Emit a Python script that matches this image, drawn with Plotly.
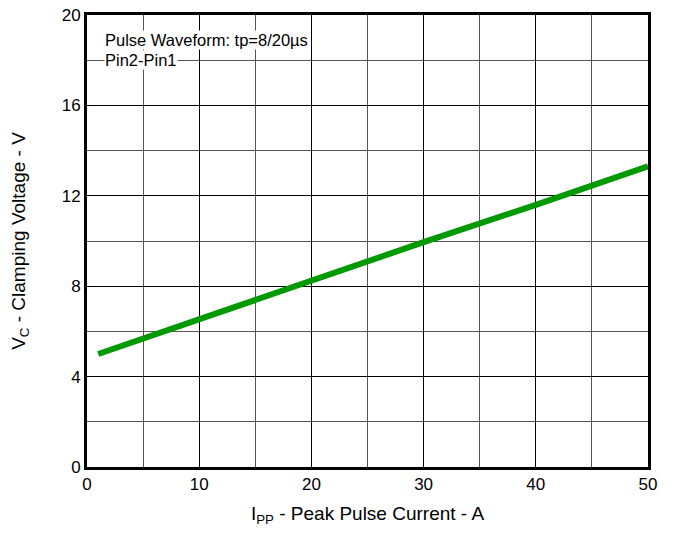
import plotly.graph_objects as go

current_a = [1, 10, 20, 30, 40, 50]
clamp_v = [5.0, 6.55, 8.25, 9.95, 11.6, 13.3]

x_ticks = [0, 10, 20, 30, 40, 50]
y_ticks = [0, 4, 8, 12, 16, 20]

fig = go.Figure()
fig.add_trace(go.Scatter(x=current_a, y=clamp_v, mode="lines",
                         line=dict(color="#009900", width=6), showlegend=False,
                         hoverinfo="skip"))

fam = "Liberation Sans, Arial, sans-serif"
font = dict(family=fam, size=16, color="black")

fig.update_layout(
    width=676, height=533,
    margin=dict(l=87, r=28, t=15, b=66),
    paper_bgcolor="white", plot_bgcolor="white",
    font=font,
    xaxis=dict(range=[0, 50], tickvals=x_ticks, ticks="", showgrid=True, automargin=False,
               tickfont=dict(family=fam, size=17, color="black"),
               gridcolor="black", gridwidth=1,
               minor=dict(dtick=5, showgrid=True, gridcolor="#555555", gridwidth=1),
               showline=True, linecolor="black", linewidth=3, mirror=True,
               zeroline=False, title=dict(text="I<sub>PP</sub> - Peak Pulse Current - A", standoff=14)),
    yaxis=dict(range=[0, 20], tickvals=y_ticks, ticks="", showgrid=True, automargin=False,
               tickfont=dict(family=fam, size=17, color="black"),
               gridcolor="black", gridwidth=1,
               minor=dict(dtick=2, showgrid=True, gridcolor="#555555", gridwidth=1),
               showline=True, linecolor="black", linewidth=3, mirror=True,
               zeroline=False, title=dict(text="V<sub>C</sub> - Clamping Voltage - V", standoff=32)),
    annotations=[
        dict(x=0.03, y=0.945, xref="paper", yref="paper", xanchor="left", yanchor="middle",
             text="Pulse Waveform: tp=8/20µs", showarrow=False, bgcolor="white", borderpad=0,
             font=dict(family=fam, size=16.5, color="black")),
        dict(x=0.03, y=0.9, xref="paper", yref="paper", xanchor="left", yanchor="middle",
             text="Pin2-Pin1", showarrow=False, bgcolor="white", borderpad=0,
             font=dict(family=fam, size=16.5, color="black")),
    ],
)

fig.write_html("out.html", config={"displayModeBar": False},
               post_script="document.body.style.margin='0';document.body.style.overflow='hidden';")
